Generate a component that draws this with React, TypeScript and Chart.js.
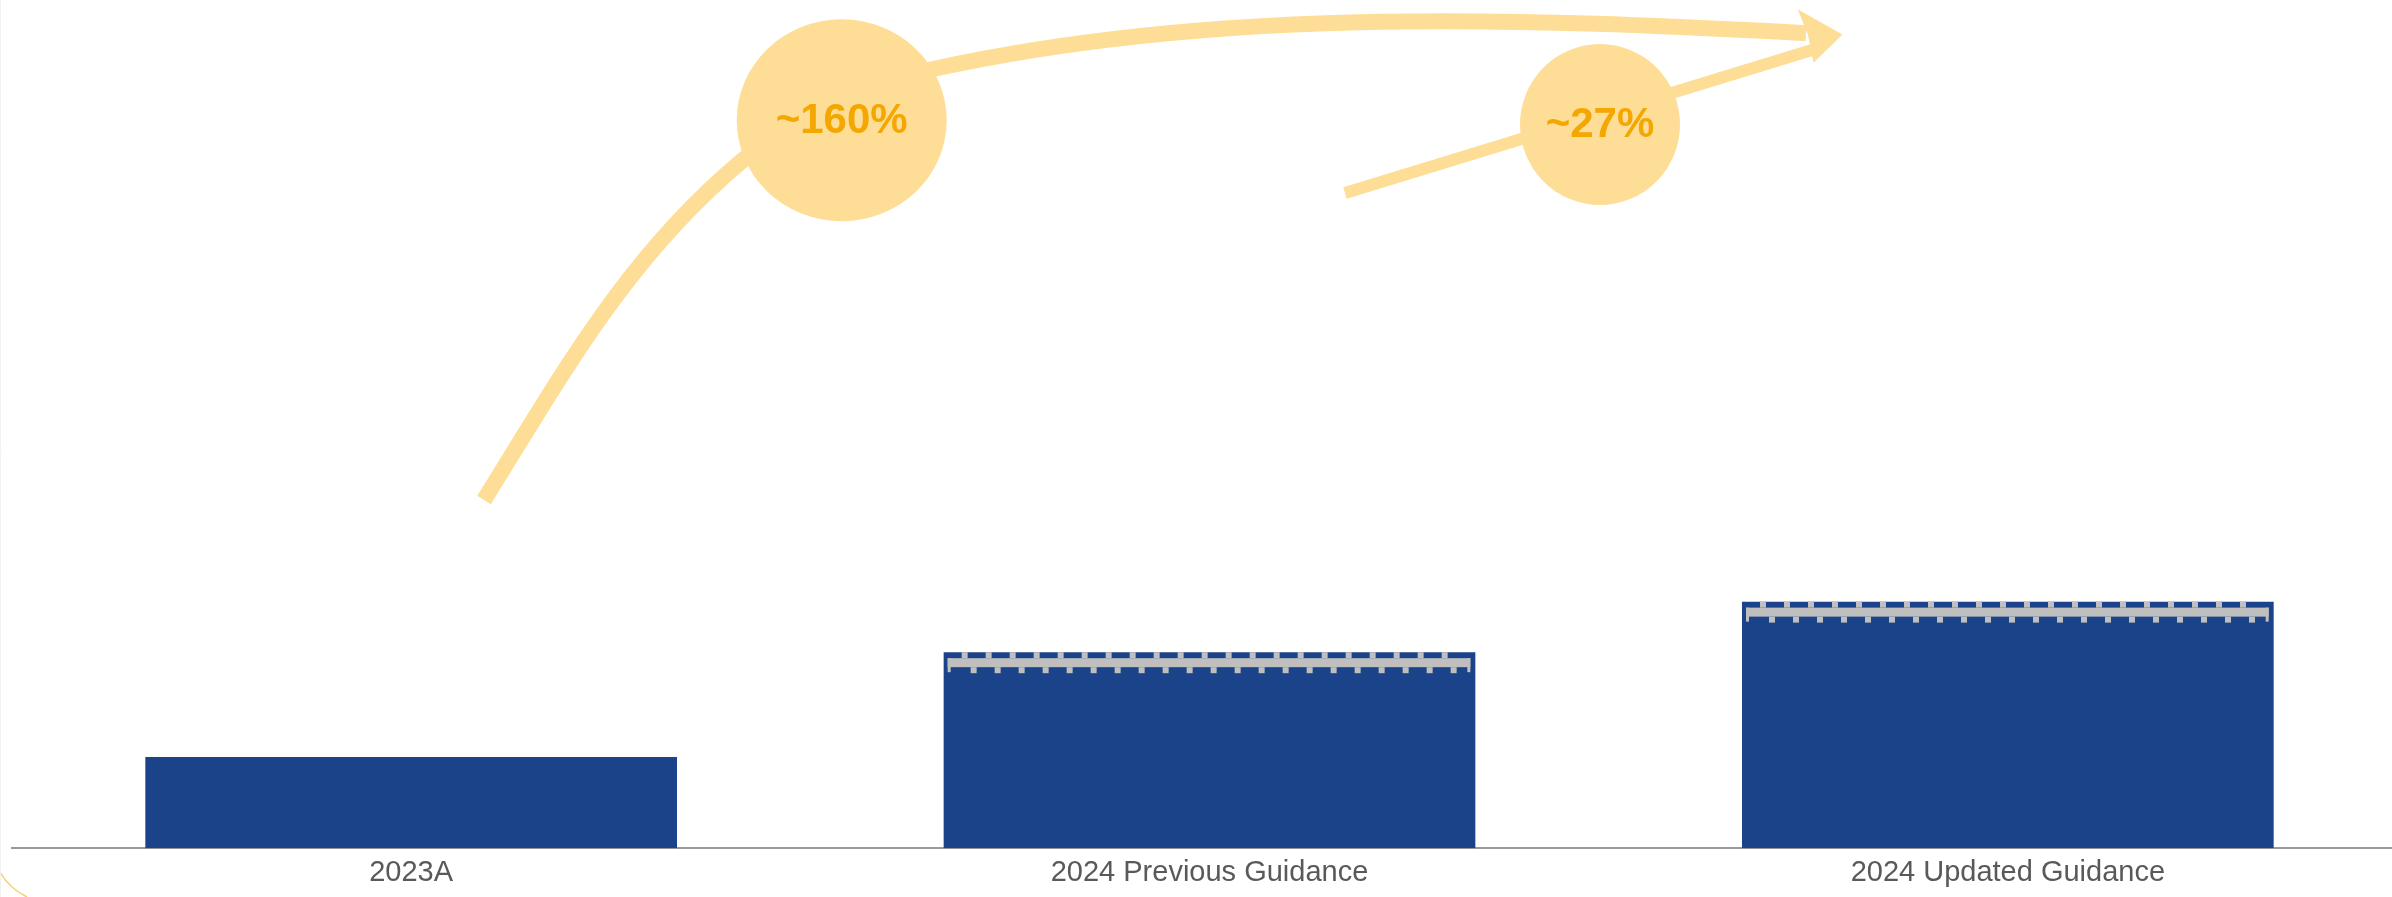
import React, { useEffect, useRef } from 'react';
import { Chart, registerables } from 'chart.js';

Chart.register(...registerables);

// ---- data ----
const categories = ['2023A', '2024 Previous Guidance', '2024 Updated Guidance'];
const values = [3.7, 7.95, 10.0];
const guidanceRange = [false, true, true];
const growthLabels = ['~160%', '~27%'];
const Y_MAX = 34.4;

// ---- styles ----
const FONT = "'Liberation Sans', Arial, sans-serif";
const BAR_COLOR = '#1B4389';
const RANGE_GRAY = '#BFBFBF';
const AXIS_COLOR = '#9A9A9A';
const LABEL_COLOR = '#595959';
const ARROW_COLOR = '#FEDE96';
const GROWTH_TEXT = '#F4A700';

// decorative annotation geometry (canvas pixels)
const curveStart: [number, number] = [484, 500];
const curveSegs: number[][] = [
  [563.5, 372.5, 627.5, 256, 743, 160],
  [800, 113, 870, 83, 933, 69],
  [1233, 3, 1556, 20.5, 1806, 33],
];
const smallLine: [number, number][] = [[1345, 193], [1812, 50]];
const bigHead: [number, number][] = [[1797.7, 9.3], [1842.5, 34.4], [1813.5, 62.7], [1808, 35]];
const bubbles = [
  { cx: 841.7, cy: 120.3, rx: 105, ry: 101 },
  { cx: 1600, cy: 124.5, rx: 80, ry: 80.5 },
];

const rangePlugin = {
  id: 'rangeBand',
  afterDatasetsDraw(chart: any) {
    const meta = chart.getDatasetMeta(0);
    const ctx: CanvasRenderingContext2D = chart.ctx;
    meta.data.forEach((bar: any, i: number) => {
      if (!guidanceRange[i]) return;
      const { x, y, width } = bar.getProps(['x', 'y', 'width'], true);
      const left = x - width / 2;
      const right = x + width / 2;
      ctx.save();
      ctx.fillStyle = RANGE_GRAY;
      ctx.fillRect(left + 4, y + 6, right - 5 - (left + 4), 9);
      ctx.fillRect(left + 4, y + 6, 3, 14);
      ctx.fillRect(right - 8, y + 6, 3, 14);
      for (let gx = left + 18; gx + 6 < right - 5; gx += 24) ctx.fillRect(gx, y, 6, 6);
      for (let gx = left + 27; gx + 6 < right - 8; gx += 24) ctx.fillRect(gx, y + 15, 6, 6);
      ctx.restore();
    });
  },
};

const annotationPlugin = {
  id: 'growthArrows',
  afterDraw(chart: any) {
    const ctx: CanvasRenderingContext2D = chart.ctx;
    ctx.save();
    ctx.strokeStyle = ARROW_COLOR;
    ctx.fillStyle = ARROW_COLOR;
    ctx.lineCap = 'butt';
    ctx.lineJoin = 'round';
    ctx.lineWidth = 16;
    ctx.beginPath();
    ctx.moveTo(curveStart[0], curveStart[1]);
    curveSegs.forEach((s) => ctx.bezierCurveTo(s[0], s[1], s[2], s[3], s[4], s[5]));
    ctx.stroke();
    ctx.lineWidth = 12;
    ctx.beginPath();
    ctx.moveTo(smallLine[0][0], smallLine[0][1]);
    ctx.lineTo(smallLine[1][0], smallLine[1][1]);
    ctx.stroke();
    ctx.beginPath();
    bigHead.forEach((p, i) => (i === 0 ? ctx.moveTo(p[0], p[1]) : ctx.lineTo(p[0], p[1])));
    ctx.closePath();
    ctx.fill();
    bubbles.forEach((b, i) => {
      ctx.fillStyle = ARROW_COLOR;
      ctx.beginPath();
      ctx.ellipse(b.cx, b.cy, b.rx, b.ry, 0, 0, Math.PI * 2);
      ctx.fill();
      ctx.fillStyle = GROWTH_TEXT;
      ctx.font = 'bold 42px "Liberation Sans", Arial, sans-serif';
      ctx.textAlign = 'center';
      ctx.textBaseline = 'middle';
      ctx.fillText(growthLabels[i], b.cx, b.cy + 1);
    });
    // faint edge details
    ctx.strokeStyle = 'rgba(244,167,0,0.55)';
    ctx.lineWidth = 1.5;
    ctx.beginPath();
    ctx.moveTo(0, 872);
    ctx.quadraticCurveTo(9, 888, 27, 897);
    ctx.stroke();
    ctx.strokeStyle = '#F2F2F2';
    ctx.lineWidth = 1;
    ctx.beginPath();
    ctx.moveTo(0.5, 0);
    ctx.lineTo(0.5, 897);
    ctx.stroke();
    ctx.restore();
  },
};

export default function App() {
  const ref = useRef<HTMLCanvasElement | null>(null);

  useEffect(() => {
    if (!ref.current) return;
    const chart = new Chart(ref.current, {
      type: 'bar',
      data: {
        labels: categories,
        datasets: [
          {
            data: values,
            backgroundColor: BAR_COLOR,
            borderWidth: 0,
            barPercentage: 0.666,
            categoryPercentage: 1,
          },
        ],
      },
      options: {
        animation: false,
        responsive: true,
        maintainAspectRatio: false,
        layout: { padding: { left: 12, right: 0, top: 0, bottom: 0 } },
        plugins: { legend: { display: false }, tooltip: { enabled: false } },
        scales: {
          x: {
            grid: { display: false, drawTicks: false },
            border: { display: true, color: AXIS_COLOR, width: 2 },
            ticks: {
              color: LABEL_COLOR,
              font: { size: 29, family: FONT },
              padding: 7,
              maxRotation: 0,
              autoSkip: false,
            },
          },
          y: { display: false, min: 0, max: Y_MAX },
        },
      },
      plugins: [rangePlugin, annotationPlugin],
    } as any);
    return () => chart.destroy();
  }, []);

  return (
    <div
      style={{
        position: 'fixed',
        left: 0,
        top: 0,
        width: 2392,
        height: 897,
        overflow: 'hidden',
        background: '#fff',
      }}
    >
      <div style={{ position: 'relative', width: 2407, height: 897 }}>
        <canvas ref={ref} />
      </div>
    </div>
  );
}
